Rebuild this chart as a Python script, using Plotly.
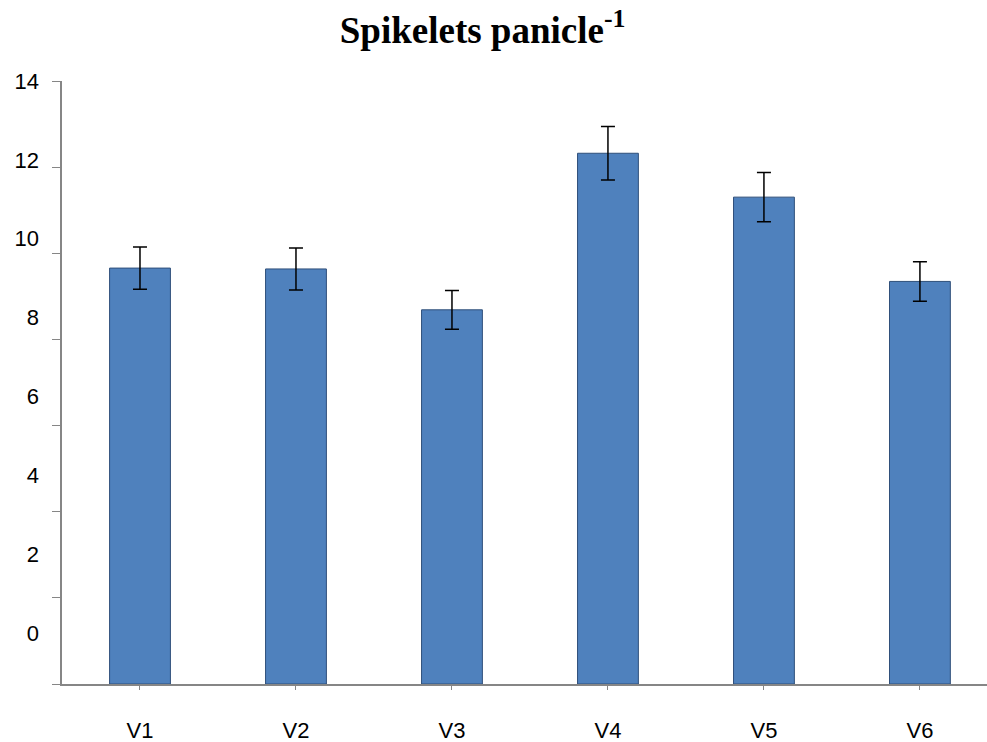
import plotly.graph_objects as go

categories = ["V1", "V2", "V3", "V4", "V5", "V6"]
values = [9.67, 9.65, 8.70, 12.34, 11.32, 9.36]
errors = [0.49, 0.49, 0.45, 0.62, 0.57, 0.46]
tick_vals = [0, 2, 4, 6, 8, 10, 12, 14]
tick_text = ["0", "2", "4", "6", "8", "10", "12", "14"]

fig = go.Figure()
fig.add_trace(go.Bar(
    x=categories, y=values,
    marker=dict(color="#4F81BD", line=dict(color="#2F4F7A", width=1)),
    error_y=dict(type="data", array=errors, color="black", thickness=1.5, width=7),
    showlegend=False,
))
# invisible helper trace so the label axis is drawn
fig.add_trace(go.Scatter(
    x=categories, y=values, yaxis="y2", mode="markers",
    marker=dict(opacity=0), hoverinfo="skip", showlegend=False,
))

fig.update_layout(
    template="none",
    width=987, height=742,
    margin=dict(l=62, r=0, t=81, b=58, autoexpand=False),
    paper_bgcolor="white", plot_bgcolor="white",
    bargap=0.61,
    title=dict(
        text="<b>Spikelets panicle<sup>-1</sup></b>",
        font=dict(family="Liberation Serif", size=37, color="black"),
        x=0.489, xref="container", xanchor="center",
        y=1 - 30 / 742, yref="container", yanchor="middle",
    ),
    xaxis=dict(
        type="category", range=[-0.5, 5.43], automargin=False,
        showline=True, linecolor="#868686", linewidth=1.5,
        ticks="outside", ticklen=4, tickcolor="#868686",
        showgrid=False, zeroline=False,
        tickfont=dict(family="Liberation Sans", size=22, color="black"),
        ticklabelstandoff=22,
    ),
    yaxis=dict(
        range=[0, 14.02], automargin=False,
        showline=True, linecolor="#868686", linewidth=1.5,
        ticks="outside", ticklen=8, tickcolor="#868686",
        tickvals=tick_vals, showticklabels=False,
        showgrid=False, zeroline=False,
    ),
    yaxis2=dict(
        overlaying="y", side="left", anchor="x", automargin=False,
        range=[-1.293, 14.001],
        tickvals=tick_vals, ticktext=tick_text,
        showline=False, ticks="", showgrid=False, zeroline=False,
        tickfont=dict(family="Liberation Sans", size=22, color="black"),
        ticklabelstandoff=22,
    ),
)

fig.write_html(
    "out.html",
    config={"displayModeBar": False},
    post_script="document.body.style.margin='0';document.body.style.overflow='hidden';",
)
